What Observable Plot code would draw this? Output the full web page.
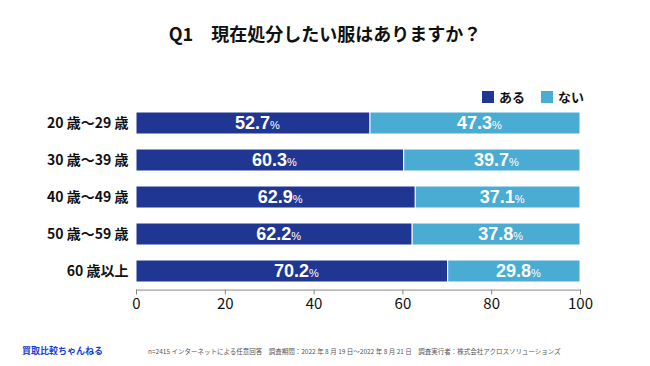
<!DOCTYPE html>
<html><head><meta charset="utf-8">
<script src="https://cdn.jsdelivr.net/npm/d3@7"></script>
<script src="https://cdn.jsdelivr.net/npm/@observablehq/plot@0.6"></script>
<style>
html,body{margin:0;padding:0;background:#fff;}
#wrap{position:relative;width:650px;height:366px;overflow:hidden;font-family:"Noto Sans CJK JP","Noto Sans",sans-serif;}
#title{position:absolute;left:0;width:650px;top:20px;text-align:center;font-size:18px;font-weight:bold;color:#111;}
.leg{position:absolute;top:87px;font-size:13px;font-weight:bold;color:#111;display:flex;align-items:center;}
.sw{width:12px;height:12px;display:inline-block;margin-right:5px;}
#brand{position:absolute;left:22px;top:344px;font-size:9px;font-weight:bold;color:#1a3fd0;}
#note{position:absolute;left:148px;top:346px;font-size:6.5px;color:#555;white-space:nowrap;}
#chart{position:absolute;left:0;top:0;}
</style></head>
<body><div id="wrap">
<div id="chart"></div>
<div id="title">Q1　現在処分したい服はありますか？</div>
<div class="leg" style="left:482px"><span class="sw" style="background:#1f3693"></span>ある</div>
<div class="leg" style="left:541px"><span class="sw" style="background:#4aacd2"></span>ない</div>
<div id="brand">買取比較ちゃんねる</div>
<div id="note">n=2415 インターネットによる任意回答　調査期間：2022 年 8 月 19 日〜2022 年 8 月 21 日　調査実行者：株式会社アクロスソリューションズ</div>
</div>
<script>
const ages = ["20 歳〜29 歳", "30 歳〜39 歳", "40 歳〜49 歳", "50 歳〜59 歳", "60 歳以上"];
const answers = ["ある", "ない"];
const aru = [52.7, 60.3, 62.9, 62.2, 70.2];
const nai = [47.3, 39.7, 37.1, 37.8, 29.8];
const xTicks = [0, 20, 40, 60, 80, 100];
const colors = ["#1f3693", "#4aacd2"];

const data = [];
ages.forEach((a, i) => {
  data.push({age: a, answer: answers[0], value: aru[i]});
  data.push({age: a, answer: answers[1], value: nai[i]});
});

const chart = Plot.plot({
  width: 650, height: 366,
  marginLeft: 136, marginRight: 70, marginTop: 104.6, marginBottom: 76.4,
  style: {fontFamily: '"Noto Sans CJK JP","Noto Sans",sans-serif', background: "transparent"},
  x: {domain: [0, 100], ticks: xTicks},
  y: {domain: ages, paddingInner: 0.4, paddingOuter: 0.2},
  color: {domain: answers, range: colors},
  marks: [
    Plot.barX(data, {x: "value", y: "age", fill: "answer", order: answers, stroke: "white", strokeWidth: 1}),
    Plot.text(data, Plot.stackX({x: "value", y: "age", z: "answer", order: answers, text: d => d.value.toFixed(1), fill: "white", fontSize: 18, fontWeight: "bold", fontFamily: '"Liberation Sans",sans-serif', className: "pct", dx: 4})),
    Plot.frame({anchor: "bottom", stroke: "#888"}),
    Plot.axisX({ticks: xTicks, tickSize: 5, tickPadding: 3, fontSize: 15, stroke: "#888", color: "#111", label: null, tickFormat: d => String(d)}),
    Plot.axisY({tickSize: 0, tickPadding: 8, fontSize: 14, fontWeight: "bold", color: "#111", label: null})
  ]
});
document.getElementById("chart").appendChild(chart);
d3.select(chart).selectAll("g.pct text").each(function() {
  const t = d3.select(this);
  const s = t.text();
  t.text(s);
  t.append("tspan").attr("font-size", 11).attr("font-weight", "normal").text("%");
});
</script>
</body></html>
